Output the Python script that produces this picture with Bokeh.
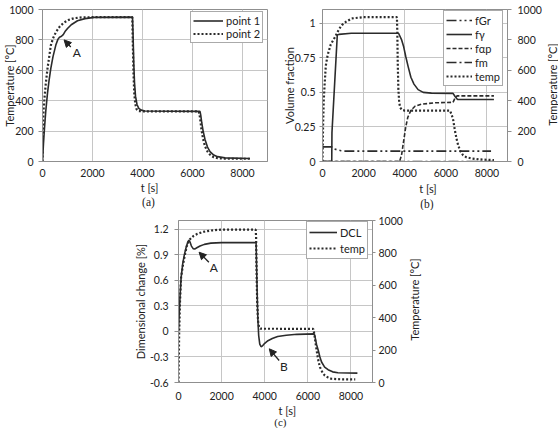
from math import pi

from bokeh.embed import file_html
from bokeh.layouts import column, row
from bokeh.models import (Arrow, FixedTicker, Label, Legend, LegendItem, LinearAxis,
                          NormalHead, Range1d, Spacer)
from bokeh.plotting import figure
from bokeh.resources import INLINE

# ---------------------------------------------------------------- data
# shared time axis ticks
X_TICKS = [0, 2000, 4000, 6000, 8000]
X_TICK_LABELS = ["0", "2000", "4000", "6000", "8000"]

# (a) temperature history of two points
A_P1_TIME = [0, 40, 80, 130, 200, 260, 333, 420, 533, 620, 680, 760, 830, 900, 1000,
             1150, 1400, 1700, 2070, 3600, 3620, 3650, 3680, 3720, 3780, 3850, 3950,
             4100, 6300, 6330, 6370, 6420, 6500, 6600, 6700, 6850, 7000, 7300, 8300]
A_P1_TEMP = [0, 120, 220, 330, 450, 530, 612, 690, 766, 805, 818, 824, 835, 855, 875,
             900, 926, 940, 948, 950, 850, 650, 520, 430, 375, 350, 338,
             332, 330, 305, 255, 205, 145, 95, 65, 42, 32, 24, 20]
A_P2_TIME = [0, 20, 40, 80, 130, 200, 260, 333, 420, 533, 700, 867, 1050, 1267, 1600,
             3590, 3610, 3640, 3670, 3710, 3760, 3850, 4000, 6250, 6300, 6350, 6420,
             6500, 6600, 6700, 6850, 7000, 7300, 8300]
A_P2_TEMP = [0, 200, 330, 420, 510, 612, 680, 764, 810, 850, 890, 915, 932, 943, 949,
             950, 800, 580, 450, 380, 345, 332, 330, 330, 290, 220, 150,
             100, 65, 45, 28, 22, 18, 18]
A_Y_TICKS = [0, 200, 400, 600, 800, 1000]
A_Y_TICK_LABELS = ["0", "200", "400", "600", "800", "1000"]

# (b) phase volume fractions and temperature
B_GR_TIME = [0, 450, 500, 700, 900, 1100, 8200]
B_GR_FRAC = [0.106, 0.106, 0.095, 0.085, 0.078, 0.075, 0.075]
B_GAMMA_TIME = [0, 450, 460, 720, 800, 1400, 3700, 3850, 3950, 4050, 4170, 4300, 4450,
                4650, 4900, 5300, 6350, 6450, 6570, 8340]
B_GAMMA_FRAC = [0, 0, 0.21, 0.915, 0.92, 0.928, 0.928, 0.88, 0.83, 0.76, 0.685, 0.61, 0.56,
                0.52, 0.50, 0.495, 0.493, 0.47, 0.449, 0.449]
B_ALPHA_TIME = [0, 3750, 3850, 3950, 4050, 4150, 4300, 4500, 4800, 5500, 6350, 6450,
                6550, 8340]
B_ALPHA_FRAC = [0, 0, 0.05, 0.15, 0.25, 0.32, 0.37, 0.40, 0.415, 0.425, 0.428, 0.46,
                0.475, 0.475]
B_M_TIME = [0, 8300]
B_M_FRAC = [0, 0]
B_TEMP_TIME = [0, 30, 60, 100, 160, 250, 400, 615, 800, 940, 1150, 1420, 2000, 3620,
               3640, 3660, 3690, 3730, 3780, 3860, 4000, 6200, 6280, 6360, 6440, 6520,
               6600, 6700, 6840, 7000, 7250, 7600, 8340]
B_TEMP = [0, 250, 400, 500, 630, 700, 770, 820, 870, 897, 920, 941, 950, 950,
          850, 650, 480, 390, 355, 340, 335, 335, 310, 272, 205, 150,
          107, 70, 41, 28, 20, 14, 9]
B_Y_TICKS = [0, 0.25, 0.5, 0.75, 1]
B_Y_TICK_LABELS = ["0", "0.25", "0.5", "0.75", "1"]

# (c) dimensional change and temperature
C_DCL_TIME = [0, 40, 80, 121, 200, 273, 350, 420, 480, 530, 600, 680, 750, 850, 1000,
              1200, 1500, 2000, 3600, 3620, 3650, 3680, 3720, 3770, 3830, 3900, 4000,
              4150, 4350, 4600, 5000, 5500, 6300, 6330, 6400, 6485, 6560, 6636, 6780,
              6939, 7150, 7394, 8300]
C_DCL = [0, 0.25, 0.45, 0.63, 0.8, 0.9, 0.98, 1.04, 1.07, 1.05, 1.0, 0.97, 0.965, 0.98,
         1.0, 1.02, 1.035, 1.04, 1.04, 0.8, 0.45, 0.15, -0.05, -0.15, -0.18, -0.17,
         -0.14, -0.11, -0.085, -0.06, -0.045, -0.035, -0.03, -0.06, -0.15, -0.225,
         -0.3, -0.36, -0.42, -0.45, -0.475, -0.486, -0.49]
C_TEMP_TIME = [0, 30, 70, 121, 200, 273, 380, 500, 700, 879, 1150, 1485, 2000, 3580,
               3600, 3620, 3650, 3690, 3740, 3800, 6250, 6300, 6350, 6409, 6480, 6560,
               6680, 6788, 6950, 7090, 7500, 8200]
C_TEMP = [0, 300, 500, 650, 720, 773, 840, 880, 905, 918, 930, 938, 944, 944,
          900, 700, 500, 380, 340, 332, 331, 300, 250, 198, 140, 95,
          62, 43, 30, 23, 20, 19]
C_Y_TICKS = [-0.6, -0.3, 0, 0.3, 0.6, 0.9, 1.2]
C_Y_TICK_LABELS = ["-0.6", "-0.3", "0", "0.3", "0.6", "0.9", "1.2"]
TEMP_TICKS = [0, 200, 400, 600, 800, 1000]
TEMP_TICK_LABELS = ["0", "200", "400", "600", "800", "1000"]

# ---------------------------------------------------------------- style
FONT = "Lato"
SERIF = "Liberation Serif"
INK = "#222222"
LINE = "#2b2b2b"
GRID = "#c6c6c6"
FRAME = "#8f8f8f"
TICK_SIZE = "10.5px"
TITLE_SIZE = "11px"
LEGEND_SIZE = "11px"


def make_fig(width, height, borders, y_range, tick_standoff):
    bl, br, bt, bb = borders
    p = figure(width=width, height=height, x_range=Range1d(0, 9000), y_range=y_range,
               output_backend="svg", toolbar_location=None,
               min_border_left=bl, min_border_right=br,
               min_border_top=bt, min_border_bottom=bb)
    # inner plot-area size, used to place the free-standing texts around it
    p.tags = [width - bl - br, height - bt - bb]
    p.background_fill_color = "white"
    p.border_fill_color = "white"
    p.outline_line_color = FRAME
    p.outline_line_width = 1
    p.grid.grid_line_color = GRID
    p.grid.grid_line_width = 1
    xa = p.xaxis[0]
    xa.ticker = FixedTicker(ticks=X_TICKS)
    xa.major_label_overrides = dict(zip(X_TICKS, X_TICK_LABELS))
    xa.major_tick_out = 0
    xa.major_tick_in = 0
    xa.major_label_standoff = tick_standoff
    xa.axis_line_color = FRAME
    xa.major_tick_line_color = FRAME
    xa.minor_tick_line_color = None
    xa.major_label_text_font = FONT
    xa.major_label_text_font_size = TICK_SIZE
    xa.major_label_text_color = INK
    return p


def style_y(ax, ticks, labels, standoff, tick_out=4, title=None, title_standoff=0):
    ax.ticker = FixedTicker(ticks=ticks)
    ax.major_label_overrides = dict(zip(ticks, labels))
    ax.major_tick_out = tick_out
    ax.major_tick_in = 0
    ax.major_label_standoff = standoff
    ax.axis_line_color = FRAME
    ax.major_tick_line_color = FRAME
    ax.minor_tick_line_color = None
    ax.major_label_text_font = FONT
    ax.major_label_text_font_size = TICK_SIZE
    ax.major_label_text_color = INK
    if title is not None:
        ax.axis_label = title
        ax.axis_label_standoff = title_standoff
        ax.axis_label_text_font = FONT
        ax.axis_label_text_font_size = TITLE_SIZE
        ax.axis_label_text_font_style = "normal"
        ax.axis_label_text_color = INK


def add_text(p, side, dx, dy, text, angle=0.0, font=FONT, size=TITLE_SIZE):
    """Place a text dx px right of the plot area's left edge and dy px above its
    bottom edge; it lives in a side panel so it may sit outside the plot area."""
    fw, fh = p.tags
    xr, yr = p.x_range, p.y_range
    x = xr.start + dx / fw * (xr.end - xr.start)
    y = yr.start + dy / fh * (yr.end - yr.start)
    p.add_layout(Label(x=x, y=y, text=text, angle=angle, text_align="center",
                       text_baseline="middle", text_font=font, text_font_size=size,
                       text_color=INK), side)


def add_legend(p, items, loc, glyph_width, row_height):
    leg = Legend(items=items, location=loc, orientation="vertical")
    leg.label_text_font = FONT
    leg.label_text_font_size = LEGEND_SIZE
    leg.label_text_color = INK
    leg.glyph_width = glyph_width
    leg.glyph_height = row_height
    leg.label_height = row_height
    leg.label_standoff = 3
    leg.spacing = 0
    leg.padding = 2
    leg.margin = 0
    leg.border_line_color = "#555555"
    leg.border_line_width = 1
    leg.background_fill_color = "white"
    leg.background_fill_alpha = 1
    p.add_layout(leg)


def add_arrow(p, tail, tip):
    p.add_layout(Arrow(end=NormalHead(size=7, fill_color=INK, line_color=INK),
                       x_start=tail[0], y_start=tail[1], x_end=tip[0], y_end=tip[1],
                       line_color=INK, line_width=1.3))


def add_mark(p, x, y, text):
    p.add_layout(Label(x=x, y=y, text=text, text_align="center", text_baseline="middle",
                       text_font=FONT, text_font_size="12px", text_color=INK))


# ---------------------------------------------------------------- (a)
pa = make_fig(279, 210, (42, 12, 7, 49), Range1d(0, 1000), 7)
style_y(pa.yaxis[0], A_Y_TICKS, A_Y_TICK_LABELS, standoff=5,
        title="Temperature [°C]", title_standoff=-10)
r_p1 = pa.line(A_P1_TIME, A_P1_TEMP, line_color=LINE, line_width=1.6)
r_p2 = pa.line(A_P2_TIME, A_P2_TEMP, line_color=LINE, line_width=2.2, line_dash="2 2")
add_legend(pa, [LegendItem(label="point 1", renderers=[r_p1]),
                LegendItem(label="point 2", renderers=[r_p2])],
           (148, 118), 30, 13)
add_arrow(pa, (1132, 753), (864, 800))
add_mark(pa, 1372, 716, "A")
add_text(pa, "below", 107, -26, "t [s]")
add_text(pa, "below", 106, -41, "(a)", font=SERIF, size="11.5px")

# ---------------------------------------------------------------- (b)
pb = make_fig(279, 210, (42, 51, 9, 49), Range1d(0, 1.1), 7)
pb.extra_y_ranges = {"temp": Range1d(0, 1000)}
style_y(pb.yaxis[0], B_Y_TICKS, B_Y_TICK_LABELS, standoff=4, tick_out=3,
        title="Volume fraction", title_standoff=-4)
b_right = LinearAxis(y_range_name="temp")
style_y(b_right, TEMP_TICKS, TEMP_TICK_LABELS, standoff=6)
pb.add_layout(b_right, "right")
r_gr = pb.line(B_GR_TIME, B_GR_FRAC, line_color=LINE, line_width=1.6,
               line_dash="10 3 2 3 2 3")
r_m = pb.line(B_M_TIME, B_M_FRAC, line_color=LINE, line_width=1.6, line_dash="10 3 2 3")
r_ap = pb.line(B_ALPHA_TIME, B_ALPHA_FRAC, line_color=LINE, line_width=1.6, line_dash="4 2")
r_g = pb.line(B_GAMMA_TIME, B_GAMMA_FRAC, line_color=LINE, line_width=1.6)
r_bt = pb.line(B_TEMP_TIME, B_TEMP, line_color=LINE, line_width=2.2, line_dash="2 2",
               y_range_name="temp")
add_legend(pb, [LegendItem(label="fGr", renderers=[r_gr]),
                LegendItem(label="fγ", renderers=[r_g]),
                LegendItem(label="fαp", renderers=[r_ap]),
                LegendItem(label="fm", renderers=[r_m]),
                LegendItem(label="temp", renderers=[r_bt])],
           (121, 75), 26, 14)
add_text(pb, "right", 231, 77, "Temperature [°C]", angle=pi / 2)
add_text(pb, "below", 106, -27, "t [s]")
add_text(pb, "below", 105, -42, "(b)", font=SERIF, size="11.5px")

# ---------------------------------------------------------------- (c)
pc = make_fig(325, 218, (44, 83, 10, 46), Range1d(-0.6, 1.3), 9)
pc.extra_y_ranges = {"temp": Range1d(0, 1000)}
style_y(pc.yaxis[0], C_Y_TICKS, C_Y_TICK_LABELS, standoff=6,
        title="Dimensional change [%]", title_standoff=0)
c_right = LinearAxis(y_range_name="temp")
style_y(c_right, TEMP_TICKS, TEMP_TICK_LABELS, standoff=3, tick_out=3)
pc.add_layout(c_right, "right")
r_dcl = pc.line(C_DCL_TIME, C_DCL, line_color=LINE, line_width=1.6)
r_ct = pc.line(C_TEMP_TIME, C_TEMP, line_color=LINE, line_width=2.2, line_dash="2 2",
               y_range_name="temp")
add_legend(pc, [LegendItem(label="DCL", renderers=[r_dcl]),
                LegendItem(label="temp", renderers=[r_ct])],
           (128, 123), 28, 16)
add_arrow(pc, (1409, 0.81), (955, 0.928))
add_mark(pc, 1636, 0.745, "A")
add_arrow(pc, (4668, -0.342), (4212, -0.205))
add_mark(pc, 4894, -0.412, "B")
add_text(pc, "right", 241, 83, "Temperature [°C]", angle=pi / 2)
add_text(pc, "right", 111, -28, "t [s]")
add_text(pc, "right", 104, -39, "(c)", font=SERIF, size="11px")

layout = column(row(pa, pb), row(Spacer(width=130, height=218), pc))

open("out.html", "w").write(file_html(layout, INLINE))
